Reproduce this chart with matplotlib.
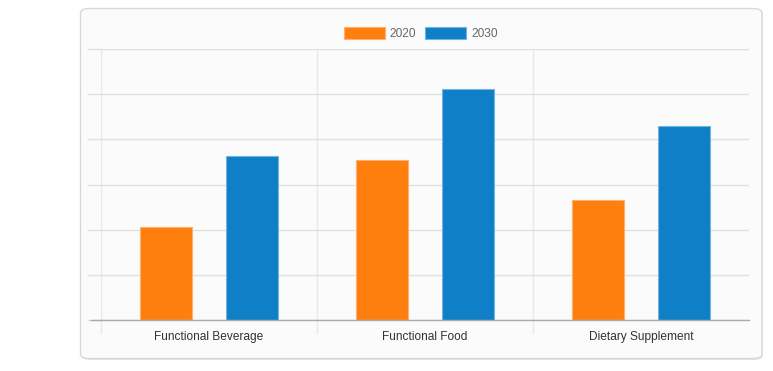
import matplotlib
matplotlib.use("Agg")
import matplotlib.pyplot as plt
from matplotlib.patches import FancyBboxPatch
import numpy as np

categories = ["Functional Beverage", "Functional Food", "Dietary Supplement"]
series_names = ["2020", "2030"]
values_2020 = [20.7, 35.4, 26.5]
values_2030 = [36.3, 51.1, 42.9]
colors = ["#ff7f0e", "#0f80c8"]
edge_colors = ["#ffb070", "#70b4e0"]

W, H = 773, 371
fig = plt.figure(figsize=(W / 100, H / 100), dpi=100)
fig.patch.set_facecolor("white")

# card background with shadow
shadow = FancyBboxPatch((82 / W, (H - 360) / H), (763 - 82) / W, (360 - 10) / H,
                        boxstyle="round,pad=0,rounding_size=0.012",
                        transform=fig.transFigure, facecolor="#e6e6e6",
                        edgecolor="none", zorder=0)
card = FancyBboxPatch((80.5 / W, (H - 358.5) / H), (762 - 80.5) / W, (358.5 - 8.5) / H,
                      boxstyle="round,pad=0,rounding_size=0.012",
                      transform=fig.transFigure, facecolor="#fbfbfb",
                      edgecolor="#d8d8d8", linewidth=1.0, zorder=1)
fig.patches.extend([shadow, card])

ax = fig.add_axes([101 / W, (H - 320) / H, (749 - 101) / W, (320 - 49) / H])
ax.set_facecolor("none")
ax.set_zorder(2)

x = np.arange(len(categories))
bw = 0.24
off = 0.2
for i, (vals, name) in enumerate([(values_2020, series_names[0]), (values_2030, series_names[1])]):
    ax.bar(x + (i * 2 - 1) * off, vals, width=bw, color=colors[i],
           edgecolor=edge_colors[i], linewidth=0.8, label=name, zorder=3)

ax.set_xlim(-0.5, 2.5)
ax.set_ylim(0, 60)
ax.set_yticks(np.arange(0, 61, 10))
ax.set_yticklabels([])
ax.tick_params(axis="y", length=10, color="#e0e0e0", width=1)
ax.grid(axis="y", color="#e0e0e0", linewidth=1, zorder=0)

ax.set_xticks(x)
ax.set_xticklabels(categories, fontsize=8.6, color="#333333", family="Liberation Sans")
ax.tick_params(axis="x", which="major", length=0, pad=8)
ax.set_xticks([-0.5, 0.5, 1.5], minor=True)
ax.tick_params(axis="x", which="minor", length=10, color="#e8e8e8", width=1)
ax.grid(axis="x", which="minor", color="#e8e8e8", linewidth=1, zorder=0)

for s in ["top", "right", "left"]:
    ax.spines[s].set_visible(False)
ax.spines["bottom"].set_color("#aaaaaa")
ax.spines["bottom"].set_linewidth(1)
ax.spines["bottom"].set_zorder(4)
# extend the bottom axis line to the left to match the tick length
ax.plot([-0.5 - 10 / 216, -0.5], [0, 0], color="#aaaaaa", linewidth=1,
        clip_on=False, zorder=4)

leg = fig.legend(loc="center", bbox_to_anchor=(420.5 / W, (H - 33.5) / H), ncol=2,
                 frameon=False, handlelength=3.43, handleheight=1.15,
                 columnspacing=0.75, handletextpad=0.42,
                 prop={"family": "Liberation Sans", "size": 8.6})
for t in leg.get_texts():
    t.set_color("#666666")

fig.savefig("out.png", dpi=100)
